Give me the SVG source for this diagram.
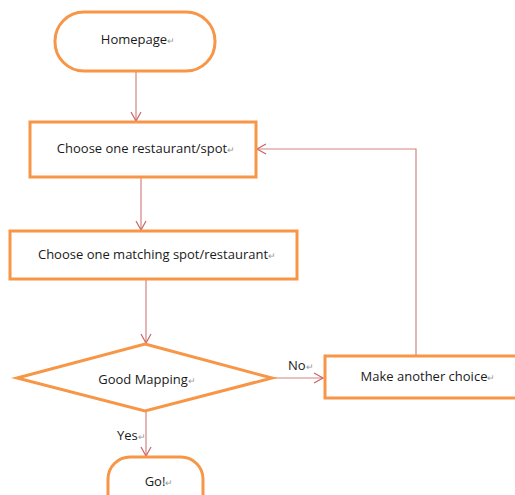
<svg xmlns="http://www.w3.org/2000/svg" width="515" height="495" viewBox="0 0 515 495">
<style>
.node{fill:#fff;stroke:#F79646;stroke-width:3}
.t{font-family:"Open Sans","Liberation Sans",Arial,sans-serif;font-size:13px;fill:#1a1a1a;text-anchor:middle}
.l{font-family:"Open Sans","Liberation Sans",Arial,sans-serif;font-size:13px;fill:#1a1a1a}
.pm{fill:#999;font-size:9px}
.c{fill:none;stroke:#C86464;stroke-width:1.2;stroke-opacity:0.8}
</style>
<defs>
<marker id="arr" markerWidth="12" markerHeight="12" refX="10" refY="6" orient="auto" markerUnits="userSpaceOnUse">
<path d="M1,1 L10,6 L1,11" fill="none" stroke="#C86464" stroke-width="1.2"/>
</marker>
</defs>
<rect width="515" height="495" fill="#fff"/>
<g id="connectors">
<line class="c" x1="136" y1="71" x2="136" y2="121" marker-end="url(#arr)"/>
<line class="c" x1="141" y1="177" x2="141" y2="230" marker-end="url(#arr)"/>
<line class="c" x1="146" y1="279" x2="146" y2="343" marker-end="url(#arr)"/>
<line class="c" x1="272" y1="378" x2="323" y2="378" marker-end="url(#arr)"/>
<polyline class="c" points="416,356 416,149 257,149" marker-end="url(#arr)"/>
<line class="c" x1="146" y1="411" x2="146" y2="456" marker-end="url(#arr)"/>
<text class="l" x="288" y="370">No<tspan class="pm">↵</tspan></text>
<text class="l" x="117" y="440">Yes<tspan class="pm">↵</tspan></text>
</g>
<g id="homepage">
<rect class="node" x="55" y="12" width="160" height="59" rx="29" ry="29"/>
<text class="t" x="138" y="44">Homepage<tspan class="pm">↵</tspan></text>
</g>
<g id="choose-restaurant">
<rect class="node" x="30" y="122" width="226" height="55"/>
<text class="t" x="146" y="153">Choose one restaurant/spot<tspan class="pm">↵</tspan></text>
</g>
<g id="choose-matching">
<rect class="node" x="10" y="231" width="287" height="48"/>
<text class="t" x="157" y="259">Choose one matching spot/restaurant<tspan class="pm">↵</tspan></text>
</g>
<g id="good-mapping">
<polygon class="node" points="145,344 272,378 145,411 17,378"/>
<text class="t" x="147" y="384">Good Mapping<tspan class="pm">↵</tspan></text>
</g>
<g id="make-another">
<rect class="node" x="325" y="356" width="195" height="42"/>
<text class="t" x="428" y="381">Make another choice<tspan class="pm">↵</tspan></text>
</g>
<g id="go">
<rect class="node" x="108" y="457" width="95" height="60" rx="22" ry="22"/>
<text class="t" x="159" y="486">Go!<tspan class="pm">↵</tspan></text>
</g>
</svg>
